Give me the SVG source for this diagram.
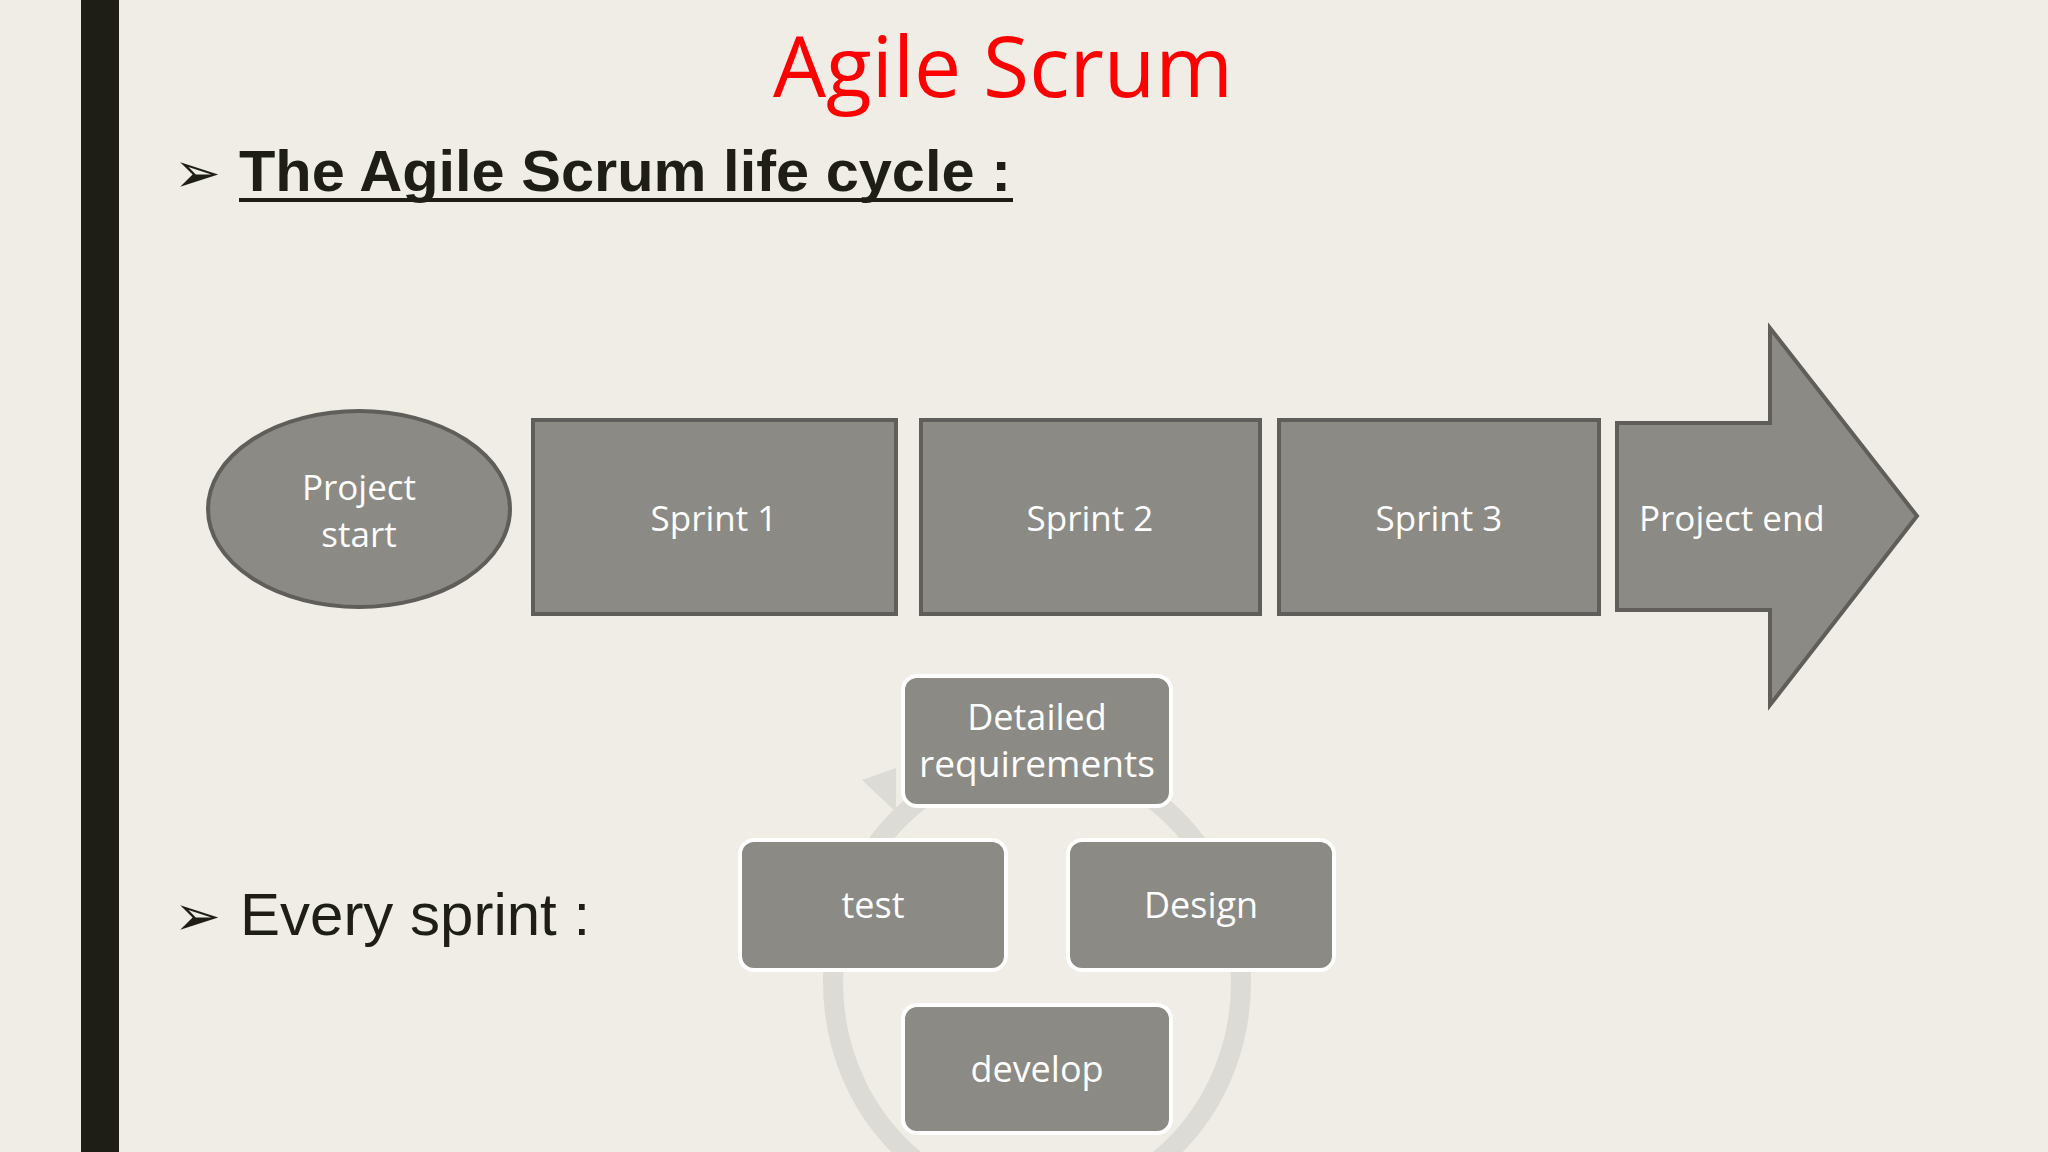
<svg xmlns="http://www.w3.org/2000/svg" width="2048" height="1152" viewBox="0 0 2048 1152">
<defs><style>
.n{fill:#8b8a85;stroke:#5f5e5a;stroke-width:4}
.c{fill:#8b8a85;stroke:#fff;stroke-width:4}
.t{font-family:"Open Sans","Liberation Sans",sans-serif;fill:#fff;font-size:35px;text-anchor:middle}
.ct{font-family:"Open Sans","Liberation Sans",sans-serif;fill:#fff;font-size:36px;text-anchor:middle}
.b{font-family:"DejaVu Sans",sans-serif;font-size:56px;fill:#1e1e16}
</style></defs>
<rect width="2048" height="1152" fill="#efede6"/>
<rect x="81" y="0" width="38" height="1152" fill="#1e1e16"/>
<text x="1003" y="97" font-family="Open Sans, Liberation Sans, sans-serif" font-size="84" fill="#ff0000" text-anchor="middle">Agile Scrum</text>
<text x="174" y="192" class="b">➢</text>
<text x="239" y="191" font-family="Liberation Sans, Arial, sans-serif" font-weight="bold" font-size="58" fill="#1e1e16" textLength="772" lengthAdjust="spacingAndGlyphs">The Agile Scrum life cycle :</text>
<rect x="239" y="198" width="774" height="4" fill="#1e1e16"/>
<text x="174" y="935" class="b">➢</text>
<text x="240" y="935" font-family="Liberation Sans, Arial, sans-serif" font-size="60" fill="#1e1e16">Every sprint :</text>
<g id="connectors">
<ellipse cx="1037" cy="982" rx="204" ry="222" fill="none" stroke="#dcdbd5" stroke-width="20"/>
<polygon points="862,780 896,768 896,812" fill="#dcdbd5"/>
</g>
<g id="start"><ellipse class="n" cx="359" cy="509" rx="151" ry="98"/><text class="t" x="359" y="500">Project</text><text class="t" x="359" y="547">start</text></g>
<g id="sprint1"><rect class="n" x="533" y="420" width="363" height="194"/><text class="t" x="714" y="531">Sprint 1</text></g>
<g id="sprint2"><rect class="n" x="921" y="420" width="339" height="194"/><text class="t" x="1090" y="531">Sprint 2</text></g>
<g id="sprint3"><rect class="n" x="1279" y="420" width="320" height="194"/><text class="t" x="1439" y="531">Sprint 3</text></g>
<g id="end"><polygon class="n" points="1617,423 1770,423 1770,328 1917,516 1770,705 1770,610 1617,610"/><text class="t" x="1639" y="531" style="text-anchor:start">Project end</text></g>
<g id="req"><rect class="c" x="903" y="676" width="268" height="130" rx="14"/><text class="ct" x="1037" y="730">Detailed</text><text class="ct" x="1037" y="777" textLength="236" lengthAdjust="spacingAndGlyphs">requirements</text></g>
<g id="design"><rect class="c" x="1068" y="840" width="266" height="130" rx="14"/><text class="ct" x="1201" y="918">Design</text></g>
<g id="develop"><rect class="c" x="903" y="1005" width="268" height="128" rx="14"/><text class="ct" x="1037" y="1082">develop</text></g>
<g id="test"><rect class="c" x="740" y="840" width="266" height="130" rx="14"/><text class="ct" x="873" y="918">test</text></g>
</svg>
